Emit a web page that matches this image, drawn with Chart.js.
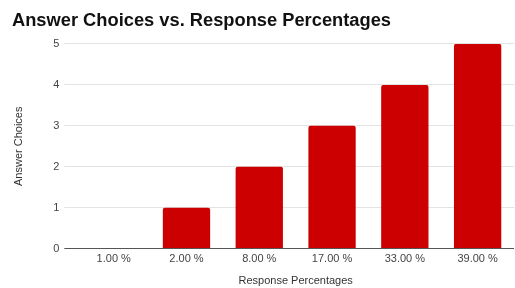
<!DOCTYPE html>
<html>
<head>
<meta charset="utf-8">
<script src="https://cdn.jsdelivr.net/npm/chart.js@4"></script>
<style>
  html, body { margin: 0; padding: 0; background: #fff; }
  #wrap { width: 515px; height: 288px; }
</style>
</head>
<body>
<div id="wrap"><canvas id="answer-chart" width="515" height="288"></canvas></div>
<script>
const categories = ['1.00 %', '2.00 %', '8.00 %', '17.00 %', '33.00 %', '39.00 %'];
const answerChoices = [0, 1, 2, 3, 4, 5];
const yTicks = [0, 1, 2, 3, 4, 5];

const fontFamily = '"Liberation Sans", Arial, sans-serif';
const ctx = document.getElementById('answer-chart').getContext('2d');

new Chart(ctx, {
  type: 'bar',
  data: {
    labels: categories,
    datasets: [{
      label: 'Answer Choices',
      data: answerChoices,
      backgroundColor: '#cc0000',
      borderWidth: 0,
      borderRadius: 2,
      borderSkipped: 'bottom',
      categoryPercentage: 1,
      barPercentage: 0.65
    }]
  },
  options: {
    responsive: false,
    animation: false,
    layout: { padding: { left: 12, right: 1, top: 10, bottom: 0 } },
    plugins: {
      legend: { display: false },
      tooltip: { enabled: false },
      title: {
        display: true,
        text: 'Answer Choices vs. Response Percentages',
        align: 'start',
        color: '#111',
        font: { family: fontFamily, size: 18.3, weight: 'bold' },
        padding: { top: 0, bottom: 12 }
      }
    },
    scales: {
      x: {
        grid: { display: false, drawTicks: false },
        border: { display: false },
        ticks: { color: '#444', font: { family: fontFamily, size: 11 }, padding: 4 },
        title: {
          display: true,
          text: 'Response Percentages',
          color: '#333',
          font: { family: fontFamily, size: 11 },
          padding: { top: 5, bottom: 0 }
        }
      },
      y: {
        min: 0,
        max: 5,
        afterBuildTicks: (axis) => { axis.ticks = yTicks.map(v => ({ value: v })); },
        grid: {
          color: (c) => c.tick && c.tick.value === 0 ? '#555' : '#e3e3e3',
          lineWidth: 1,
          tickLength: 13
        },
        border: { display: false },
        ticks: { color: '#444', font: { family: fontFamily, size: 11 }, padding: 5 },
        title: {
          display: true,
          text: 'Answer Choices',
          color: '#333',
          font: { family: fontFamily, size: 11 },
          padding: { top: 0, bottom: 23 }
        }
      }
    }
  }
});
</script>
</body>
</html>
